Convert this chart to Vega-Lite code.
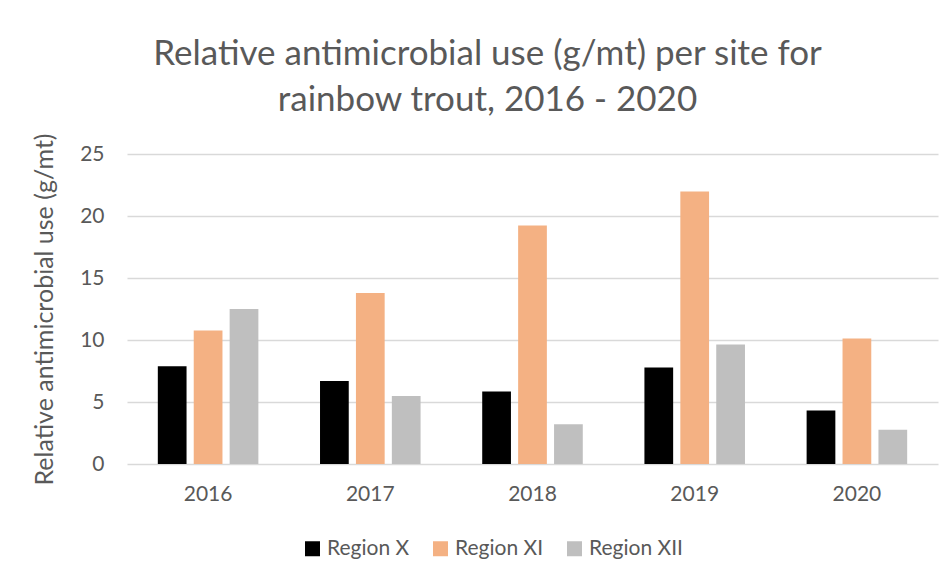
{
  "$schema": "https://vega.github.io/schema/vega-lite/v6.json",
  "autosize": {"type": "none"},
  "padding": {"left": 127, "top": 154, "right": 14, "bottom": 118},
  "width": 811,
  "height": 310,
  "background": "white",
  "title": {
    "text": ["Relative antimicrobial use (g/mt) per site for", "rainbow trout, 2016 - 2020"],
    "font": "Lato",
    "fontSize": 35,
    "fontWeight": "normal",
    "color": "#595959",
    "lineHeight": 46,
    "anchor": "middle",
    "frame": "group",
    "dx": -45,
    "offset": 15
  },
  "data": {
    "values": [
      {"year": "2016", "region": "Region X", "value": 7.89},
      {"year": "2016", "region": "Region XI", "value": 10.77},
      {"year": "2016", "region": "Region XII", "value": 12.49},
      {"year": "2017", "region": "Region X", "value": 6.69},
      {"year": "2017", "region": "Region XI", "value": 13.8},
      {"year": "2017", "region": "Region XII", "value": 5.48},
      {"year": "2018", "region": "Region X", "value": 5.85},
      {"year": "2018", "region": "Region XI", "value": 19.23},
      {"year": "2018", "region": "Region XII", "value": 3.2},
      {"year": "2019", "region": "Region X", "value": 7.79},
      {"year": "2019", "region": "Region XI", "value": 21.97},
      {"year": "2019", "region": "Region XII", "value": 9.64},
      {"year": "2020", "region": "Region X", "value": 4.32},
      {"year": "2020", "region": "Region XI", "value": 10.12},
      {"year": "2020", "region": "Region XII", "value": 2.77}
    ]
  },
  "mark": {"type": "bar"},
  "encoding": {
    "x": {
      "field": "year",
      "type": "nominal",
      "scale": {"paddingInner": 0.38, "paddingOuter": 0.19},
      "axis": {
        "title": null,
        "labelAngle": 0,
        "labelFont": "Lato",
        "labelFontSize": 21,
        "labelColor": "#595959",
        "labelPadding": 19,
        "ticks": false,
        "domain": false,
        "grid": false
      }
    },
    "xOffset": {
      "field": "region",
      "type": "nominal",
      "scale": {"paddingInner": 0.2, "paddingOuter": 0}
    },
    "y": {
      "field": "value",
      "type": "quantitative",
      "scale": {"domain": [0, 25], "nice": false},
      "axis": {
        "title": "Relative antimicrobial use (g/mt)",
        "titleFont": "Lato",
        "titleFontSize": 25,
        "titleFontWeight": "normal",
        "titleColor": "#595959",
        "titlePadding": 22,
        "values": [0, 5, 10, 15, 20, 25],
        "labelFont": "Lato",
        "labelFontSize": 21,
        "labelColor": "#595959",
        "labelPadding": 23,
        "ticks": false,
        "domain": false,
        "grid": true,
        "gridColor": "#d9d9d9",
        "gridWidth": 1.5
      }
    },
    "color": {
      "field": "region",
      "type": "nominal",
      "scale": {
        "domain": ["Region X", "Region XI", "Region XII"],
        "range": ["#000000", "#F4B183", "#BFBFBF"]
      },
      "legend": {
        "title": null,
        "orient": "none",
        "direction": "horizontal",
        "legendX": 175,
        "legendY": 384,
        "symbolType": "square",
        "symbolSize": 225,
        "symbolStrokeWidth": 0,
        "labelFont": "Lato",
        "labelFontSize": 21,
        "labelColor": "#595959",
        "labelOffset": 4,
        "columnPadding": 20
      }
    }
  },
  "config": {
    "view": {"stroke": null}
  }
}
